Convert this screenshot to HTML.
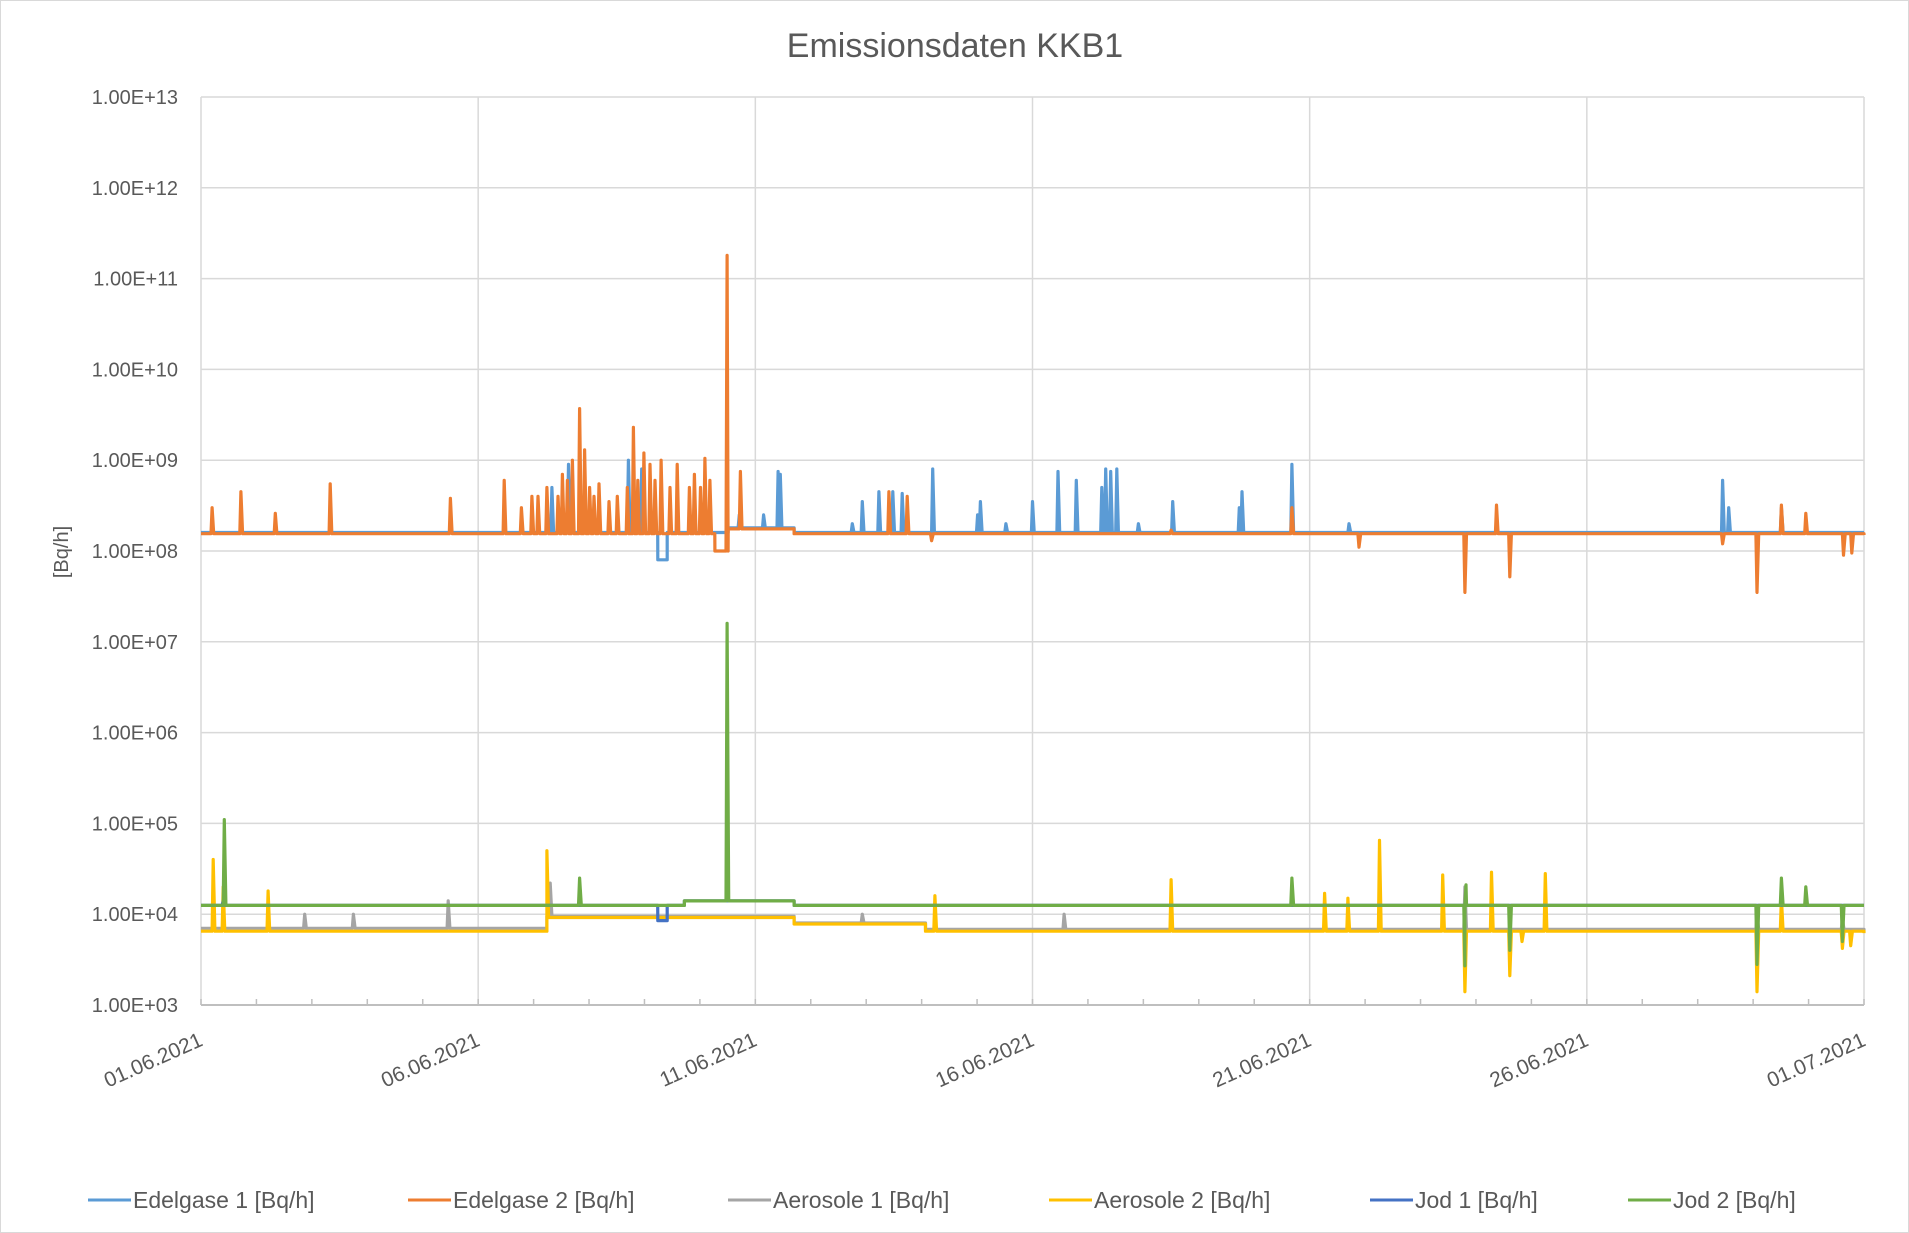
<!DOCTYPE html>
<html><head><meta charset="utf-8"><style>
html,body{margin:0;padding:0;background:#fff;}
svg{display:block;font-family:"Liberation Sans",sans-serif;}
</style></head><body>
<svg id="chart" width="1909" height="1233" viewBox="0 0 1909 1233">
<rect x="0.5" y="0.5" width="1908" height="1232" fill="#fff" stroke="#d9d9d9"/>
<text x="955" y="57" text-anchor="middle" font-size="34" fill="#595959">Emissionsdaten KKB1</text>
<text transform="translate(68,552) rotate(-90)" text-anchor="middle" font-size="20" fill="#595959">[Bq/h]</text>
<g id="grid"></g><g id="series"></g><g id="axes"></g><g id="legend"></g>
</svg>
<script>
const yTickExps=[3,4,5,6,7,8,9,10,11,12,13];
const yTickLabels=["1.00E+03","1.00E+04","1.00E+05","1.00E+06","1.00E+07","1.00E+08","1.00E+09","1.00E+10","1.00E+11","1.00E+12","1.00E+13"];
const xTickDays=[0,5,10,15,20,25,30];
const xTickLabels=["01.06.2021","06.06.2021","11.06.2021","16.06.2021","21.06.2021","26.06.2021","01.07.2021"];
const seriesNames=["Edelgase 1 [Bq/h]","Edelgase 2 [Bq/h]","Aerosole 1 [Bq/h]","Aerosole 2 [Bq/h]","Jod 1 [Bq/h]","Jod 2 [Bq/h]"];
// base levels: [startDay, value]
const edel1Base=[[0,1.6e8],[8.24,8e7],[8.41,1.6e8],[9.51,1.8e8],[10.7,1.6e8],[30,1.6e8]];
const edel1Spikes=[[6.33,5e8],[6.63,9e8],[7.71,1e9],[7.95,8e8],[9.71,2.5e8],[10.15,2.5e8],[10.41,7.5e8],[10.45,7e8],[11.75,2e8],[11.93,3.5e8],[12.23,4.5e8],[12.48,4.5e8],[12.65,4.3e8],[13.2,8e8],[14.01,2.5e8],[14.06,3.5e8],[14.52,2e8],[15.0,3.5e8],[15.46,7.5e8],[15.79,6e8],[16.25,5e8],[16.32,8e8],[16.41,7.5e8],[16.52,8e8],[16.91,2e8],[17.53,3.5e8],[18.73,3e8],[18.78,4.5e8],[19.68,9e8],[20.71,2e8],[27.45,6e8],[27.56,3e8],[28.51,3e8]];
const edel2Base=[[0,1.55e8],[9.27,1e8],[9.51,1.75e8],[10.7,1.55e8],[30,1.5e8]];
const edel2Spikes=[[0.2,3e8],[0.72,4.5e8],[1.34,2.6e8],[2.33,5.5e8],[4.5,3.8e8],[5.47,6e8],[5.78,3e8],[5.97,4e8],[6.08,4e8],[6.24,5e8],[6.44,4e8],[6.52,7e8],[6.61,6e8],[6.7,1e9],[6.83,3.7e9],[6.92,1.3e9],[7.01,5e8],[7.09,4e8],[7.18,5.5e8],[7.36,3.5e8],[7.51,4e8],[7.69,5e8],[7.8,2.3e9],[7.88,6e8],[7.99,1.2e9],[8.1,9e8],[8.19,6e8],[8.3,1e9],[8.46,5e8],[8.59,9e8],[8.81,5e8],[8.9,7e8],[9.01,5e8],[9.09,1.05e9],[9.18,6e8],[9.49,1.8e11],[9.73,7.5e8],[12.41,4.5e8],[12.74,4e8],[13.18,1.3e8],[17.5,1.7e8],[19.68,3e8],[20.89,1.1e8],[22.8,3.5e7],[23.37,3.2e8],[23.61,5.2e7],[27.45,1.2e8],[28.07,3.5e7],[28.51,3.2e8],[28.95,2.6e8],[29.63,9e7],[29.78,9.5e7]];
const aer1Base=[[0,7e3],[6.24,9.5e3],[10.7,8e3],[13.07,6.8e3],[30,6.6e3]];
const aer1Spikes=[[1.87,1e4],[2.75,1e4],[4.46,1.4e4],[6.3,2.2e4],[11.93,1e4],[15.57,1e4],[22.8,2e4],[28.07,1e4],[29.61,9e3]];
const aer2Base=[[0,6.5e3],[6.24,9.2e3],[10.7,7.8e3],[13.07,6.5e3],[30,6.2e3]];
const aer2Spikes=[[0.22,4e4],[0.4,2e4],[1.21,1.8e4],[6.24,5e4],[13.24,1.6e4],[17.5,2.4e4],[20.27,1.7e4],[20.69,1.5e4],[21.26,6.5e4],[22.4,2.7e4],[22.8,1.4e3],[23.28,2.9e4],[23.61,2.1e3],[23.83,5e3],[24.25,2.8e4],[28.07,1.4e3],[28.51,1.5e4],[29.61,4.2e3],[29.76,4.5e3]];
const jod1Base=[[0,1.25e4],[8.24,8.5e3],[8.41,1.25e4],[8.72,1.4e4],[10.7,1.25e4],[30,1.25e4]];
const jod1Spikes=[[0.4,1.4e4]];
const jod2Base=[[0,1.25e4],[8.72,1.4e4],[10.7,1.25e4],[30,1.25e4]];
const jod2Spikes=[[0.42,1.1e5],[6.83,2.5e4],[9.49,1.6e7],[19.68,2.5e4],[22.8,2.7e3],[22.82,2.1e4],[23.61,4e3],[28.07,2.8e3],[28.51,2.5e4],[28.95,2e4],[29.61,5e3]];
const colors=["#5B9BD5","#ED7D31","#A5A5A5","#FFC000","#4472C4","#70AD47"];

const X0=201,X1=1864,YT=97,YB=1005;
const xScale=d=>X0+(X1-X0)*d/30;
const yScale=v=>YB-(YB-YT)*(Math.log10(v)-3)/10;
const NS="http://www.w3.org/2000/svg";
function mk(tag,attrs,parent){const e=document.createElementNS(NS,tag);for(const k in attrs)e.setAttribute(k,attrs[k]);parent.appendChild(e);return e;}
const grid=document.getElementById('grid'),axes=document.getElementById('axes'),ser=document.getElementById('series'),leg=document.getElementById('legend');
yTickExps.forEach((e,i)=>{const y=yScale(Math.pow(10,e));
 const l=mk('line',{x1:X0,x2:X1,y1:y,y2:y,stroke:'#d9d9d9','stroke-width':1.5},grid);
 
 
 const t=mk('text',{x:178,y:y+7,'text-anchor':'end','font-size':20,fill:'#595959'},axes);
 t.textContent=yTickLabels[i];
 
 
});
xTickDays.forEach((d,i)=>{const x=xScale(d);
 const l=mk('line',{x1:x,x2:x,y1:YT,y2:YB,stroke:'#d9d9d9','stroke-width':1.5},grid);
 
 
 const t=mk('text',{'text-anchor':'end','font-size':21,fill:'#595959',transform:`translate(${x+3},${1045}) rotate(-24)`},axes);
 t.textContent=xTickLabels[i];
 
 
});
for(let d=0;d<=30;d++){const x=xScale(d);
 const l=mk('line',{x1:x,x2:x,y1:YB-6,y2:YB,stroke:'#bfbfbf','stroke-width':1.5},axes);
 
 
}
const ax=mk('line',{x1:X0,x2:X1,y1:YB,y2:YB,stroke:'#bfbfbf','stroke-width':2},axes);


function baseAt(base,t){let v=base[0][1];for(const b of base){if(b[0]<=t)v=b[1];}return v;}
function build(base,spikes){const ev=[];
 for(let i=0;i<base.length;i++){const t=base[i][0];
  if(i>0)ev.push([t-0.0005,baseAt(base,t-0.0005)]);
  ev.push([t,baseAt(base,t)]);}
 spikes.forEach(s=>{ev.push([s[0]-0.02,baseAt(base,s[0]-0.02)],[s[0],s[1]],[s[0]+0.03,baseAt(base,s[0]+0.03)]);});
 ev.sort((a,b)=>a[0]-b[0]);return ev;}
const all=[[edel1Base,edel1Spikes],[edel2Base,edel2Spikes],[aer1Base,aer1Spikes],[aer2Base,aer2Spikes],[jod1Base,jod1Spikes],[jod2Base,jod2Spikes]];
const sNames=['series-edelgase-1','series-edelgase-2','series-aerosole-1','series-aerosole-2','series-jod-1','series-jod-2'];
all.forEach((s,i)=>{const pts=build(s[0],s[1]).map(p=>xScale(Math.max(0,Math.min(30,p[0]))).toFixed(1)+','+yScale(p[1]).toFixed(1)).join(' ');
 const p=mk('polyline',{points:pts,fill:'none',stroke:colors[i],'stroke-width':3.2,'stroke-linejoin':'round'},ser);
 
 
});
const legX=[88,408,728,1049,1370,1628];
seriesNames.forEach((n,i)=>{const g=mk('g',{},leg);
 
 
 mk('line',{x1:legX[i],x2:legX[i]+43,y1:1200,y2:1200,stroke:colors[i],'stroke-width':3},g);
 const t=mk('text',{x:legX[i]+45,y:1208,'font-size':23,fill:'#595959'},g);
 t.textContent=n;
});
</script>
</body></html>
